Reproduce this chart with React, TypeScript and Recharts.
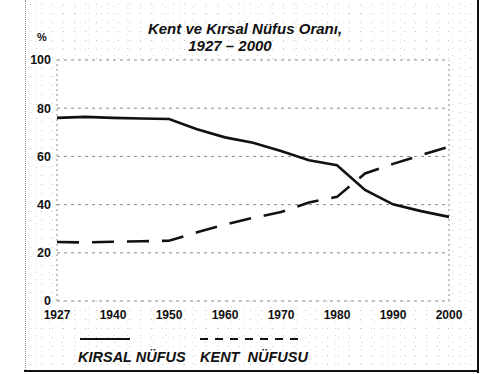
import React from 'react';
import {
  LineChart, Line, XAxis, YAxis, CartesianGrid, ReferenceLine,
} from 'recharts';

// census years on an evenly spaced category axis (every other one labelled)
const YEARS = ['1927', '1935', '1940', '1945', '1950', '1955', '1960', '1965', '1970', '1975', '1980', '1985', '1990', '1995', '2000'];
const RURAL = [76, 76.4, 76, 75.7, 75.5, 71.3, 67.9, 65.7, 62.2, 58.4, 56.3, 46.1, 40.1, 37.3, 34.9];
const URBAN = [24.5, 24.3, 24.6, 24.8, 25, 28.5, 31.7, 34.5, 36.9, 40.9, 43.2, 52.9, 56.9, 60.5, 64];
const Y_TICKS = [0, 20, 40, 60, 80, 100];

const data = YEARS.map((year, i) => ({ year, rural: RURAL[i], urban: URBAN[i] }));

const FONT = '"Liberation Sans", Arial, sans-serif';
const INK = '#111';
const GRID = '#8a8a8a';

const speckle = {
  backgroundColor: '#fff',
  backgroundImage:
    'radial-gradient(circle, #c4c4c4 0.6px, transparent 0.8px), radial-gradient(circle, #d6d6d6 0.6px, transparent 0.8px)',
  backgroundSize: '11px 9px, 13px 7px',
  backgroundPosition: '0 0, 5px 3px',
};

const LEGEND_ITEMS = [
  { key: 'rural', label: 'KIRSAL NÜFUS', left: 78, lineFrom: 2, lineLen: 50, dash: undefined },
  { key: 'urban', label: 'KENT  NÜFUSU', left: 200, lineFrom: 0, lineLen: 103, dash: '8 7' },
];

function SeriesKey() {
  return (
    <>
      {LEGEND_ITEMS.map((it) => (
        <div key={it.key} style={{ position: 'absolute', left: it.left, top: 336 }}>
          <svg width={it.lineFrom + it.lineLen + 2} height={6} style={{ display: 'block' }}>
            <line x1={it.lineFrom} y1={3} x2={it.lineFrom + it.lineLen} y2={3} stroke={INK} strokeWidth={2} strokeDasharray={it.dash} />
          </svg>
          <div style={{ marginTop: 7, fontFamily: FONT, fontWeight: 700, fontStyle: 'italic', fontSize: 14.5, lineHeight: '16px', color: INK, whiteSpace: 'pre' }}>
            {it.label}
          </div>
        </div>
      ))}
    </>
  );
}

const titleStyle = {
  position: 'absolute' as const, left: 0, textAlign: 'center' as const,
  fontFamily: FONT, fontWeight: 700, fontStyle: 'italic', fontSize: 15, lineHeight: '17px', color: INK,
};

export default function App() {
  return (
    <div style={{ position: 'absolute', left: 0, top: 0, width: 497, height: 374, background: '#fff', overflow: 'hidden' }}>
      {/* scanned-page texture and frame */}
      <div style={{ position: 'absolute', left: 25, top: 0, width: 446, height: 370, ...speckle }} />
      <div style={{ position: 'absolute', left: 25, top: 0, width: 0, height: 370, borderLeft: `1px dotted ${GRID}` }} />
      <div style={{ position: 'absolute', left: 477, top: 0, width: 2, height: 373, background: INK }} />
      <div style={{ position: 'absolute', left: 24, top: 370, width: 455, height: 2, background: INK }} />

      <div style={{ position: 'absolute', left: 0, top: 0 }}>
        <LineChart width={497} height={374} data={data} margin={{ top: 60, right: 48, left: 22, bottom: 43 }}>
          <CartesianGrid vertical={false} fill="#fff" stroke={GRID} strokeDasharray="3 4" />
          <ReferenceLine x="1927" stroke={GRID} strokeDasharray="2 3" />
          <ReferenceLine x="2000" stroke={GRID} strokeDasharray="2 3" />
          <XAxis
            dataKey="year"
            interval={1}
            height={30}
            axisLine={false}
            tickLine={false}
            tickSize={0}
            tickMargin={9}
            tick={{ fontSize: 12, fontWeight: 700, fill: INK, fontFamily: FONT }}
          />
          <YAxis
            domain={[0, 100]}
            ticks={Y_TICKS}
            width={35}
            axisLine={false}
            tickLine={false}
            tickSize={0}
            tickMargin={6}
            tick={{ fontSize: 12.5, fontWeight: 700, fill: INK, fontFamily: FONT }}
          />
          <Line type="linear" dataKey="rural" name="KIRSAL NÜFUS" stroke={INK} strokeWidth={2.6} dot={false} isAnimationActive={false} />
          <Line type="linear" dataKey="urban" name="KENT NÜFUSU" stroke={INK} strokeWidth={2.6} strokeDasharray="22 13" dot={false} isAnimationActive={false} />
        </LineChart>
      </div>

      <SeriesKey />

      <div style={{ ...titleStyle, width: 490, top: 20 }}>Kent ve Kırsal Nüfus Oranı,</div>
      <div style={{ ...titleStyle, width: 460, top: 37 }}>1927 – 2000</div>
      <div style={{ position: 'absolute', left: 37, top: 31, fontFamily: FONT, fontWeight: 700, fontSize: 11, color: INK }}>%</div>
    </div>
  );
}
